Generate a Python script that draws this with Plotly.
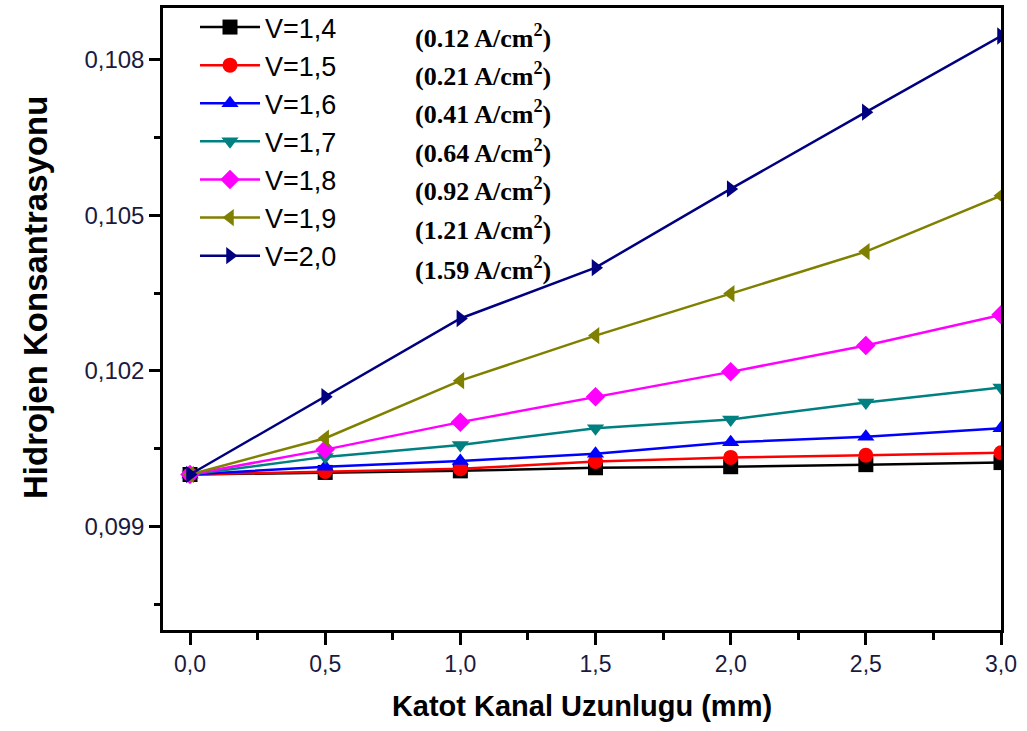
import plotly.graph_objects as go

x_mm = [0.0, 0.5, 1.0, 1.5, 2.0, 2.5, 3.0]
v14 = [0.1000, 0.10004, 0.10007, 0.10013, 0.10015, 0.10019, 0.10023]
v15 = [0.1000, 0.10006, 0.10011, 0.10025, 0.10033, 0.10037, 0.10042]
v16 = [0.1000, 0.10015, 0.10026, 0.10040, 0.10062, 0.10073, 0.10089]
v17 = [0.1000, 0.10034, 0.10057, 0.10089, 0.10106, 0.10139, 0.10168]
v18 = [0.1000, 0.10048, 0.10101, 0.10150, 0.10198, 0.10249, 0.10308]
v19 = [0.1000, 0.10070, 0.10181, 0.10268, 0.10349, 0.10430, 0.10538]
v20 = [0.1000, 0.10150, 0.10301, 0.10399, 0.10551, 0.10699, 0.10846]

series_names = ["V=1,4", "V=1,5", "V=1,6", "V=1,7", "V=1,8", "V=1,9", "V=2,0"]
series_values = [v14, v15, v16, v17, v18, v19, v20]
colors = ["#000000", "#FF0000", "#0000FF", "#008080", "#FF00FF", "#808000", "#000080"]
symbols = ["square", "circle", "triangle-up", "triangle-down", "diamond", "triangle-left", "triangle-right"]
current_labels = ["(0.12 A/cm<sup>2</sup>)", "(0.21 A/cm<sup>2</sup>)", "(0.41 A/cm<sup>2</sup>)",
                  "(0.64 A/cm<sup>2</sup>)", "(0.92 A/cm<sup>2</sup>)", "(1.21 A/cm<sup>2</sup>)",
                  "(1.59 A/cm<sup>2</sup>)"]
x_title = "Katot Kanal Uzunlugu (mm)"
y_title = "Hidrojen Konsantrasyonu"

fig = go.Figure()
for i, (name, vals) in enumerate(zip(series_names, series_values)):
    fig.add_trace(go.Scatter(
        x=x_mm, y=vals, name=name, mode="lines+markers",
        line=dict(color=colors[i], width=2.5),
        marker=dict(symbol=symbols[i], size=15, color=colors[i]),
        legendgroup=name,
    ))

# plot area: left 163, right 1001, top 8, bottom 630
L, R, T, B = 163, 1001, 8, 630
W, H = 1027, 731
ann_y = [36, 74, 112, 151, 189, 228, 268]
for lab, yy in zip(current_labels, ann_y):
    fig.add_annotation(
        x=(483 - L) / (R - L), y=(B - yy) / (B - T), xref="x domain", yref="y domain",
        text="<b>" + lab + "</b>", showarrow=False,
        font=dict(family="Liberation Serif", size=26, color="#000000"),
        xanchor="center", yanchor="middle",
    )

# y-axis title placed as a rotated annotation (slightly above the plot centre, as in the reference)
fig.add_annotation(
    x=(35 - L) / (R - L), y=(B - 298) / (B - T), xref="paper", yref="paper",
    text="<b>" + y_title + "</b>", textangle=-90, showarrow=False,
    font=dict(family="Liberation Sans", size=33, color="#000000"),
    xanchor="center", yanchor="middle",
)

axis_common = dict(
    showline=True, linecolor="black", linewidth=2.5, mirror=True,
    ticks="outside", tickcolor="black", tickwidth=2.5,
    showgrid=False, zeroline=False,
)

fig.update_layout(
    width=W, height=H,
    margin=dict(l=L, r=W - R, t=T, b=H - B, autoexpand=False),
    paper_bgcolor="white", plot_bgcolor="white",
    separators=",.",
    font=dict(family="Liberation Sans", color="#000000"),
    xaxis=dict(
        range=[-0.1, 3.0], tickmode="linear", tick0=0, dtick=0.5, tickformat=".1f",
        ticklen=12,
        minor=dict(ticks="outside", ticklen=7, tickwidth=2.5, tickcolor="black", dtick=0.25, tick0=0),
        tickfont=dict(size=23, color="#1a1a40"),
        title=dict(text="<b>" + x_title + "</b>", font=dict(size=29), standoff=20),
        **axis_common,
    ),
    yaxis=dict(
        range=[0.097, 0.109], tickmode="linear", tick0=0.099, dtick=0.003, tickformat=".3f",
        ticklen=11,
        minor=dict(ticks="outside", ticklen=6, tickwidth=2.5, tickcolor="black", dtick=0.0015, tick0=0.0975),
        tickfont=dict(size=24, color="#1a1a40"),
        **axis_common,
    ),
    legend=dict(
        x=(195 - L) / (R - L), y=1 + 5 / (B - T), xanchor="left", yanchor="top",
        bgcolor="rgba(0,0,0,0)", borderwidth=0,
        font=dict(size=27, family="Liberation Sans", color="#000000"),
        tracegroupgap=0, itemwidth=60,
    ),
)

fig.write_html("out.html")
